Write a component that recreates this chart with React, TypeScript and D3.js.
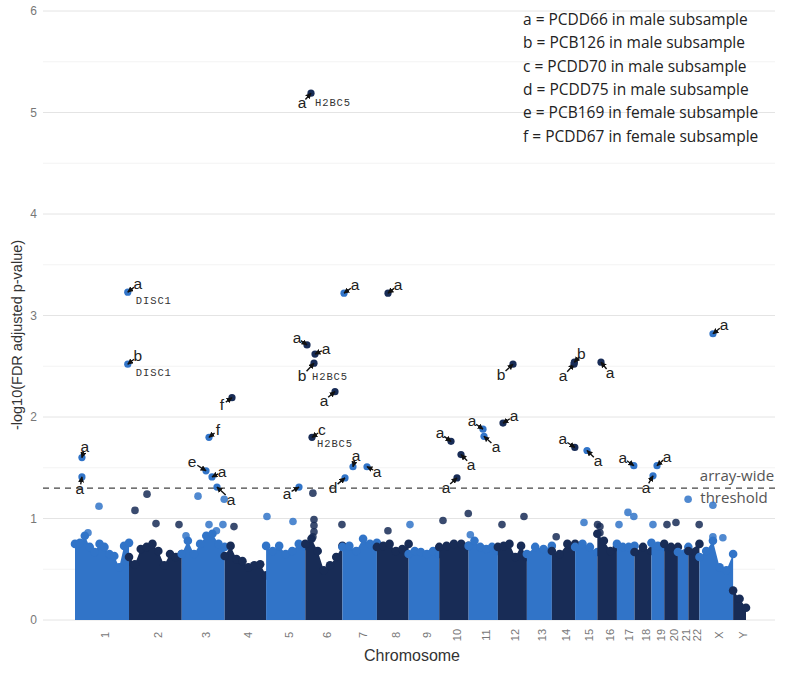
import React from 'react';
import * as d3 from 'd3';

// ---------- data ----------
const chromosomes = ['1','2','3','4','5','6','7','8','9','10','11','12','13','14','15','16','17','18','19','20','21','22','X','Y'];
const chromLengthsMb = [249.25, 243.2, 198.0, 191.15, 180.9, 171.1, 159.1, 146.4, 141.2, 135.5, 135.0, 133.85, 115.2, 107.3, 102.5, 90.35, 81.2, 78.1, 59.1, 63.0, 48.1, 51.3, 155.3, 59.4];

// upper edge of the dense cloud of CpG sites, sampled evenly along each chromosome
const massEnvelope: number[][] = [
  [0.75, 0.76, 0.83, 0.72, 0.67, 0.75, 0.72, 0.65, 0.63, 0.52, 0.73, 0.76],
  [0.62, 0.55, 0.70, 0.72, 0.75, 0.68, 0.54, 0.65, 0.62, 0.65],
  [0.65, 0.78, 0.65, 0.75, 0.83, 0.85, 0.75, 0.72],
  [0.63, 0.73, 0.60, 0.58, 0.52, 0.54, 0.55, 0.44],
  [0.73, 0.68, 0.73, 0.65, 0.68, 0.75, 0.73],
  [0.75, 0.80, 0.68, 0.49, 0.54, 0.62, 0.73],
  [0.72, 0.73, 0.68, 0.80, 0.75, 0.76],
  [0.72, 0.73, 0.75, 0.68, 0.70, 0.75],
  [0.65, 0.68, 0.67, 0.65, 0.68, 0.65],
  [0.72, 0.73, 0.75, 0.75, 0.73],
  [0.73, 0.78, 0.72, 0.70, 0.72, 0.68],
  [0.72, 0.73, 0.75, 0.62, 0.73, 0.62],
  [0.65, 0.72, 0.70, 0.73],
  [0.68, 0.65, 0.75, 0.75],
  [0.72, 0.75, 0.72, 0.67],
  [0.85, 0.78, 0.68, 0.72],
  [0.75, 0.72, 0.72, 0.73],
  [0.67, 0.72, 0.68],
  [0.76, 0.73, 0.72],
  [0.75, 0.72, 0.72],
  [0.67, 0.72],
  [0.68, 0.75],
  [0.62, 0.68, 0.78, 0.52, 0.49, 0.65],
  [0.29, 0.21, 0.12],
];

// isolated sites above the cloud (chromosome, position in Mb, -log10 FDR p)
const outliers = [
  { chr: '1', pos: 110.7, value: 1.12 },
  { chr: '1', pos: 60, value: 0.86 },
  { chr: '2', pos: 27.5, value: 1.08 },
  { chr: '2', pos: 83, value: 1.24 },
  { chr: '2', pos: 124.4, value: 0.95 },
  { chr: '2', pos: 230.5, value: 0.94 },
  { chr: '3', pos: 19.6, value: 0.83 },
  { chr: '3', pos: 75, value: 1.22 },
  { chr: '3', pos: 125.7, value: 0.94 },
  { chr: '3', pos: 160, value: 0.88 },
  { chr: '3', pos: 190, value: 0.94 },
  { chr: '3', pos: 196, value: 1.19 },
  { chr: '4', pos: 43, value: 0.92 },
  { chr: '5', pos: 4, value: 1.02 },
  { chr: '5', pos: 124, value: 0.97 },
  { chr: '6', pos: 35, value: 1.25 },
  { chr: '6', pos: 35, value: 0.82 },
  { chr: '6', pos: 40, value: 0.99 },
  { chr: '6', pos: 40, value: 0.93 },
  { chr: '6', pos: 40, value: 0.87 },
  { chr: '6', pos: 169, value: 0.94 },
  { chr: '8', pos: 51, value: 0.88 },
  { chr: '9', pos: 6.3, value: 0.94 },
  { chr: '10', pos: 17.3, value: 0.98 },
  { chr: '10', pos: 134, value: 1.05 },
  { chr: '11', pos: 8, value: 0.84 },
  { chr: '12', pos: 19, value: 0.94 },
  { chr: '12', pos: 120.5, value: 1.02 },
  { chr: '14', pos: 20, value: 0.82 },
  { chr: '15', pos: 41, value: 0.96 },
  { chr: '16', pos: 1, value: 0.94 },
  { chr: '16', pos: 12, value: 0.92 },
  { chr: '16', pos: 12, value: 0.86 },
  { chr: '17', pos: 9.6, value: 0.94 },
  { chr: '17', pos: 51, value: 1.06 },
  { chr: '17', pos: 78, value: 1.02 },
  { chr: '19', pos: 7, value: 0.94 },
  { chr: '20', pos: 12.6, value: 0.94 },
  { chr: '20', pos: 54, value: 0.96 },
  { chr: '21', pos: 47, value: 1.19 },
  { chr: '22', pos: 50, value: 0.94 },
  { chr: 'X', pos: 62, value: 1.13 },
  { chr: 'X', pos: 62, value: 0.82 },
  { chr: 'X', pos: 108, value: 0.81 },
];

// annotated significant sites
const annotations = [
  { chr: '6', pos: 26.2, value: 5.19, letter: 'a', gene: 'H2BC5' },
  { chr: '1', pos: 243.5, value: 3.23, letter: 'a', gene: 'DISC1' },
  { chr: '1', pos: 243.5, value: 2.52, letter: 'b', gene: 'DISC1' },
  { chr: '1', pos: 32, value: 1.60, letter: 'a' },
  { chr: '1', pos: 32, value: 1.41, letter: 'a' },
  { chr: '7', pos: 7.5, value: 3.22, letter: 'a' },
  { chr: '8', pos: 51.3, value: 3.22, letter: 'a' },
  { chr: '4', pos: 33.8, value: 2.19, letter: 'f' },
  { chr: '3', pos: 125.7, value: 1.80, letter: 'f' },
  { chr: '3', pos: 111.9, value: 1.47, letter: 'e' },
  { chr: '3', pos: 139.6, value: 1.41, letter: 'a' },
  { chr: '3', pos: 162.6, value: 1.31, letter: 'a' },
  { chr: '6', pos: 7.8, value: 2.71, letter: 'a' },
  { chr: '6', pos: 44.7, value: 2.62, letter: 'a' },
  { chr: '6', pos: 40, value: 2.53, letter: 'b', gene: 'H2BC5' },
  { chr: '6', pos: 136.9, value: 2.25, letter: 'a' },
  { chr: '6', pos: 30.8, value: 1.80, letter: 'c', gene: 'H2BC5' },
  { chr: '7', pos: 48.8, value: 1.51, letter: 'a' },
  { chr: '7', pos: 113.5, value: 1.51, letter: 'a' },
  { chr: '7', pos: 12, value: 1.40, letter: 'd' },
  { chr: '5', pos: 151.8, value: 1.31, letter: 'a' },
  { chr: '10', pos: 54.3, value: 1.76, letter: 'a' },
  { chr: '10', pos: 100.4, value: 1.63, letter: 'a' },
  { chr: '10', pos: 81.9, value: 1.40, letter: 'a' },
  { chr: '11', pos: 66.4, value: 1.88, letter: 'a' },
  { chr: '11', pos: 71, value: 1.81, letter: 'a' },
  { chr: '12', pos: 23.7, value: 1.94, letter: 'a' },
  { chr: '12', pos: 69.8, value: 2.52, letter: 'b' },
  { chr: '14', pos: 102.2, value: 2.52, letter: 'a' },
  { chr: '14', pos: 104, value: 2.54, letter: 'b' },
  { chr: '16', pos: 17, value: 2.54, letter: 'a' },
  { chr: '14', pos: 106, value: 1.70, letter: 'a' },
  { chr: '15', pos: 54.8, value: 1.67, letter: 'a' },
  { chr: '17', pos: 78, value: 1.52, letter: 'a' },
  { chr: '19', pos: 25.7, value: 1.52, letter: 'a' },
  { chr: '19', pos: 7.2, value: 1.42, letter: 'a' },
  { chr: 'X', pos: 62.3, value: 2.82, letter: 'a' },
];

const legendLines = [
  'a = PCDD66 in male subsample',
  'b = PCB126 in male subsample',
  'c = PCDD70 in male subsample',
  'd = PCDD75 in male subsample',
  'e = PCB169 in female subsample',
  'f = PCDD67 in female subsample',
];
const yTicks = [0, 1, 2, 3, 4, 5, 6];
const threshold = 1.3;

// ---------- layout (label offsets in px) ----------
const labelOffsets: [number, number][] = [
  [-9, 10], [10, -8], [10, -8], [3, -11], [-2, 12], [11, -8], [10, -8], [-10, 7], [9, -7], [-14, -9],
  [10, -5], [14, 13], [-10, -7], [11, -5], [-12, 13], [-11, 9], [10, -7], [3, -11], [10, 5], [-12, 10],
  [-12, 7], [-11, -8], [10, 10], [-11, 10], [-11, -8], [12, 11], [11, -7], [-12, 11], [-11, 12], [7, -8],
  [9, 11], [-12, -8], [11, 11], [-11, -8], [10, -9], [-7, 12], [11, -9],
];
const geneOffsets: Record<number, [number, number]> = { 0: [4, 13], 1: [8, 12], 2: [8, 12], 14: [-2, 17], 16: [5, 10] };

const LIGHT = '#3174c8';
const DARK = '#182c56';

export default function App() {
  const W = 800, H = 673;
  const starts = [0, ...Array.from(d3.cumsum(chromLengthsMb))];
  const total = starts[starts.length - 1];
  const x = d3.scaleLinear().domain([0, total]).range([75, 746]);
  const y = d3.scaleLinear().domain([0, 6]).range([620, 11]);
  const gx = (chr: string, pos: number) => x(starts[chromosomes.indexOf(chr)] + pos);
  const colorOf = (chr: string) => (chromosomes.indexOf(chr) % 2 === 0 ? LIGHT : DARK);

  const area = d3.area<[number, number]>().x(d => d[0]).y0(y(0)).y1(d => d[1]);

  const masses = chromosomes.map((c, i) => {
    const env = massEnvelope[i];
    const n = env.length;
    const pts: [number, number][] = env.map((v, k) => [
      x(starts[i] + chromLengthsMb[i] * (n === 1 ? 0.5 : k / (n - 1))),
      y(v),
    ]);
    return { c, i, pts, color: i % 2 === 0 ? LIGHT : DARK };
  });

  const gridLines = d3.range(0, 6.01, 0.5);

  return (
    <svg width={W} height={H} style={{ position: 'absolute', left: 0, top: 0, background: '#fff' }}
      fontFamily="'Liberation Sans', Arial, sans-serif">
      <defs>
        <marker id="arr" viewBox="0 0 10 10" refX="9" refY="5" markerUnits="userSpaceOnUse"
          markerWidth="6" markerHeight="6" orient="auto">
          <path d="M0,0L10,5L0,10z" fill="#111" />
        </marker>
      </defs>
      <rect x={0} y={0} width={W} height={H} fill="#fff" />

      {/* grid */}
      {gridLines.map(v => (
        <line key={v} x1={43} x2={775} y1={y(v)} y2={y(v)}
          stroke={Number.isInteger(v) ? '#e4e4e4' : '#f3f3f3'} strokeWidth={1} />
      ))}

      {/* y ticks */}
      {yTicks.map(t => (
        <text key={t} x={37} y={y(t)} dy="0.35em" textAnchor="end" fontSize={12} fill="#777">{t}</text>
      ))}
      <text transform={`translate(17,${335}) rotate(-90)`} textAnchor="middle" dominantBaseline="central"
        fontSize={14.5} fill="#333">-log10(FDR adjusted p-value)</text>

      {/* dense cloud */}
      {masses.map(m => (
        <g key={m.c}>
          <path d={area(m.pts) || ''} fill={m.color} />
          {m.pts.map((p, k) => (
            <circle key={k} cx={p[0]} cy={p[1]} r={4.3} fill={m.color} />
          ))}
        </g>
      ))}

      {/* threshold */}
      <line x1={43} x2={775} y1={y(threshold)} y2={y(threshold)} stroke="#444" strokeWidth={1.2} strokeDasharray="6,5" />
      <text x={737} y={y(threshold) - 7} textAnchor="middle" fontSize={15} fill="#555"
        fontFamily="'Open Sans', sans-serif">array-wide</text>
      <text x={734} y={y(threshold) + 15} textAnchor="middle" fontSize={15} fill="#555"
        fontFamily="'Open Sans', sans-serif">threshold</text>

      {/* outliers */}
      {outliers.map((o, i) => (
        <circle key={i} cx={gx(o.chr, o.pos)} cy={y(o.value)} r={3.8} fill={colorOf(o.chr)} opacity={0.85} />
      ))}

      {/* annotated points */}
      {annotations.map((a, i) => {
        const px = gx(a.chr, a.pos), py = y(a.value);
        const [ox, oy] = labelOffsets[i];
        const g = geneOffsets[i];
        return (
          <g key={i}>
            <circle cx={px} cy={py} r={3.6} fill={colorOf(a.chr)} />
            <line x1={px + ox * 0.62} y1={py + oy * 0.62} x2={px} y2={py} stroke="#111" strokeWidth={1.4}
              markerEnd="url(#arr)" />
            <text x={px + ox} y={py + oy} textAnchor="middle" dy="0.32em" fontSize={15.5} fill="#222">{a.letter}</text>
            {a.gene && g && (
              <text x={px + g[0]} y={py + g[1]} fontSize={10.5} fill="#333" letterSpacing={0.9}
                fontFamily="'Liberation Mono', 'DejaVu Sans Mono', monospace">{a.gene}</text>
            )}
          </g>
        );
      })}

      {/* x ticks */}
      {chromosomes.map((c, i) => {
        const cx = x(starts[i] + chromLengthsMb[i] / 2);
        return (
          <text key={c} transform={`translate(${cx + 3},635) rotate(-90)`} textAnchor="middle" dominantBaseline="central"
            fontSize={11} fill="#777">{c}</text>
        );
      })}
      <text x={412} y={661} textAnchor="middle" fontSize={16} fill="#333">Chromosome</text>

      {/* legend */}
      {legendLines.map((l, i) => (
        <text key={i} x={523} y={25 + i * 23.3} fontSize={15.5} fill="#222" fontFamily="'Open Sans', sans-serif">{l}</text>
      ))}
    </svg>
  );
}
